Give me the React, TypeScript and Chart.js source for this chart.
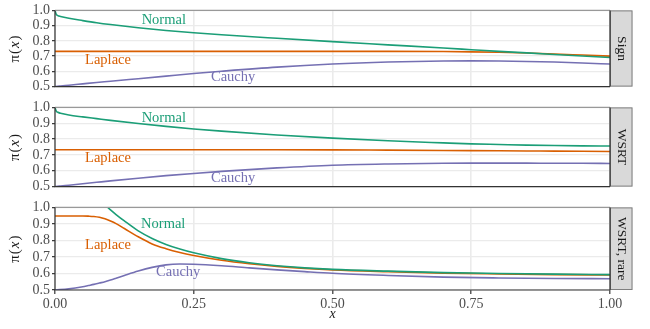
import React, { useEffect, useRef } from "react";
import { Chart, registerables } from "chart.js";

Chart.register(...registerables);

// ---------- data ----------
const panelNames = ["Sign", "WSRT", "WSRT, rare"];
const seriesNames = ["Normal", "Laplace", "Cauchy"];
const seriesColors = ["#1b9e77", "#d95f02", "#7570b3"];

const xTickValues = [0, 0.25, 0.5, 0.75, 1];
const xTickLabels = ["0.00", "0.25", "0.50", "0.75", "1.00"];
const yTickValues = [0.5, 0.6, 0.7, 0.8, 0.9, 1.0];
const yTickLabels = ["0.5", "0.6", "0.7", "0.8", "0.9", "1.0"];

const xGrid = [0, 0.002, 0.005, 0.01, 0.025, 0.05, 0.075, 0.1, 0.15, 0.2, 0.25, 0.3, 0.4, 0.5, 0.6, 0.7, 0.75, 0.8, 0.85, 0.9, 0.95, 1.0];

const signNormal = [1.0, 0.976, 0.966, 0.96, 0.948, 0.933, 0.919, 0.907, 0.886, 0.868, 0.853, 0.84, 0.817, 0.795, 0.774, 0.753, 0.742, 0.731, 0.721, 0.711, 0.701, 0.691];
const signLaplace = [0.731, 0.731, 0.731, 0.731, 0.731, 0.731, 0.731, 0.731, 0.731, 0.731, 0.731, 0.731, 0.731, 0.731, 0.731, 0.73, 0.728, 0.725, 0.72, 0.714, 0.707, 0.7];
const signCauchy = [0.5, 0.501, 0.502, 0.504, 0.509, 0.518, 0.527, 0.535, 0.552, 0.569, 0.586, 0.601, 0.628, 0.648, 0.661, 0.668, 0.669, 0.668, 0.665, 0.661, 0.655, 0.648];

const wsrtNormal = [1.0, 0.978, 0.969, 0.963, 0.952, 0.94, 0.929, 0.918, 0.898, 0.88, 0.864, 0.85, 0.826, 0.806, 0.789, 0.776, 0.77, 0.766, 0.762, 0.759, 0.757, 0.756];
const wsrtLaplace = [0.733, 0.733, 0.733, 0.733, 0.733, 0.733, 0.733, 0.733, 0.733, 0.733, 0.733, 0.733, 0.733, 0.732, 0.73, 0.728, 0.727, 0.726, 0.725, 0.724, 0.723, 0.722];
const wsrtCauchy = [0.5, 0.501, 0.502, 0.504, 0.509, 0.518, 0.527, 0.536, 0.553, 0.569, 0.583, 0.596, 0.618, 0.635, 0.643, 0.647, 0.648, 0.648, 0.648, 0.647, 0.647, 0.646];

const xRare = [0, 0.025, 0.05, 0.06, 0.07, 0.08, 0.09, 0.1, 0.11, 0.125, 0.15, 0.175, 0.2, 0.225, 0.25, 0.3, 0.35, 0.4, 0.45, 0.5, 0.6, 0.7, 0.8, 0.9, 1.0];
const rareNormal = [1.3, 1.25, 1.17, 1.13, 1.09, 1.05, 1.015, 0.985, 0.957, 0.918, 0.858, 0.812, 0.776, 0.748, 0.725, 0.69, 0.665, 0.647, 0.634, 0.625, 0.614, 0.605, 0.6, 0.596, 0.593];
const rareLaplace = [0.948, 0.948, 0.948, 0.947, 0.945, 0.94, 0.931, 0.918, 0.902, 0.872, 0.822, 0.779, 0.75, 0.727, 0.709, 0.68, 0.659, 0.643, 0.631, 0.622, 0.611, 0.602, 0.597, 0.593, 0.591];
const rareCauchy = [0.5, 0.507, 0.52, 0.527, 0.534, 0.542, 0.55, 0.56, 0.571, 0.588, 0.615, 0.637, 0.652, 0.657, 0.656, 0.647, 0.634, 0.622, 0.611, 0.601, 0.588, 0.578, 0.573, 0.57, 0.568];

// label anchor positions in data units [x, y] per panel, per series
const labelPosSign = [[0.196, 0.939], [0.0955, 0.673], [0.321, 0.561]];
const labelPosWsrt = [[0.196, 0.934], [0.0955, 0.678], [0.321, 0.553]];
const labelPosRare = [[0.195, 0.9], [0.0955, 0.774], [0.222, 0.61]];

const panelX = [xGrid, xGrid, xRare];
const panelSeries = [
  [signNormal, signLaplace, signCauchy],
  [wsrtNormal, wsrtLaplace, wsrtCauchy],
  [rareNormal, rareLaplace, rareCauchy],
];
const panelLabels = [labelPosSign, labelPosWsrt, labelPosRare];

// ---------- layout ----------
const W = 650;
const canvasTops = [0, 97, 197];
const canvasHeights = [97, 100, 132];
const padTops = [7, 10, 10];
const padBottoms = [10, 10, 0];
const xAxisHeights = [0, 0, 39];
const FONT = "'Liberation Serif', 'DejaVu Serif', serif";

const overlay = {
  id: "overlay",
  afterDatasetsDraw(chart: any, _args: any, opts: any) {
    const { ctx, chartArea: a, scales } = chart;
    const xs = scales.x;
    const ys = scales.y;
    ctx.save();
    // series labels
    ctx.font = `14.5px ${FONT}`;
    ctx.textAlign = "center";
    ctx.textBaseline = "middle";
    opts.labels.forEach((p: number[], i: number) => {
      ctx.fillStyle = seriesColors[i];
      ctx.fillText(seriesNames[i], xs.getPixelForValue(p[0]), ys.getPixelForValue(p[1]));
    });
    // strip
    const sx = a.right;
    const sw = 22.5;
    ctx.fillStyle = "#d9d9d9";
    ctx.fillRect(sx, a.top, sw, a.bottom - a.top);
    ctx.strokeStyle = "#7f7f7f";
    ctx.lineWidth = 1;
    ctx.strokeRect(sx + 0.5, a.top + 0.5, sw - 1, a.bottom - a.top - 1);
    ctx.save();
    ctx.translate(sx + sw / 2, (a.top + a.bottom) / 2);
    ctx.rotate(Math.PI / 2);
    ctx.fillStyle = "#1a1a1a";
    ctx.font = `13.5px ${FONT}`;
    ctx.textAlign = "center";
    ctx.textBaseline = "middle";
    ctx.fillText(opts.strip, 0, 0);
    ctx.restore();
    // panel borders
    ctx.lineWidth = 1.2;
    ctx.strokeStyle = "#999999";
    ctx.beginPath();
    ctx.moveTo(a.left, a.top);
    ctx.lineTo(a.right, a.top);
    ctx.stroke();
    ctx.strokeStyle = "#333333";
    ctx.beginPath();
    ctx.moveTo(a.left, a.top);
    ctx.lineTo(a.left, a.bottom);
    ctx.lineTo(a.right, a.bottom);
    ctx.moveTo(a.right, a.top);
    ctx.lineTo(a.right, a.bottom);
    ctx.stroke();
    // y title: π(x)
    ctx.save();
    ctx.translate(15, (a.top + a.bottom) / 2);
    ctx.rotate(-Math.PI / 2);
    ctx.fillStyle = "#1a1a1a";
    ctx.textBaseline = "middle";
    ctx.textAlign = "left";
    const parts = [
      ["π", `15px ${FONT}`],
      ["(", `15px ${FONT}`],
      ["x", `italic 15px ${FONT}`],
      [")", `15px ${FONT}`],
    ];
    let total = 0;
    parts.forEach(([t, f]) => {
      ctx.font = f;
      total += ctx.measureText(t).width + 1;
    });
    let cx = -total / 2;
    parts.forEach(([t, f]) => {
      ctx.font = f;
      ctx.fillText(t, cx, 0);
      cx += ctx.measureText(t).width + 1;
    });
    ctx.restore();
    // x title
    if (opts.showX) {
      ctx.fillStyle = "#1a1a1a";
      ctx.font = `italic 14px ${FONT}`;
      ctx.textAlign = "center";
      ctx.textBaseline = "middle";
      ctx.fillText("x", (a.left + a.right) / 2, a.bottom + 24);
    }
    ctx.restore();
  },
};

function makeConfig(i: number): any {
  const xsArr = panelX[i];
  const showX = i === 2;
  return {
    type: "line",
    data: {
      datasets: panelSeries[i].map((ys, k) => ({
        label: seriesNames[k],
        data: xsArr.map((x, j) => ({ x, y: ys[j] })),
        borderColor: seriesColors[k],
        borderWidth: 1.6,
        pointRadius: 0,
        fill: false,
        cubicInterpolationMode: "monotone",
      })),
    },
    options: {
      animation: false,
      responsive: false,
      devicePixelRatio: 1,
      events: [],
      layout: { padding: { left: 0, right: 40, top: padTops[i], bottom: padBottoms[i] } },
      plugins: {
        legend: { display: false },
        tooltip: { enabled: false },
        overlay: { labels: panelLabels[i], strip: panelNames[i], showX },
      },
      scales: {
        x: {
          type: "linear",
          min: 0,
          max: 1,
          afterBuildTicks: (s: any) => {
            s.ticks = xTickValues.map((v) => ({ value: v }));
          },
          afterFit: (s: any) => {
            s.height = xAxisHeights[i];
          },
          grid: {
            color: "#ebebeb",
            lineWidth: 1.6,
            drawTicks: showX,
            tickLength: 4,
            tickColor: "#333333",
            tickWidth: 1.2,
          },
          border: { display: false },
          ticks: {
            display: showX,
            padding: 2,
            color: "#4d4d4d",
            font: { family: FONT, size: 14 },
            maxRotation: 0,
            autoSkip: false,
            callback: (_v: any, idx: number) => xTickLabels[idx],
          },
        },
        y: {
          type: "linear",
          min: 0.5,
          max: 1.0,
          afterBuildTicks: (s: any) => {
            s.ticks = yTickValues.map((v) => ({ value: v }));
          },
          afterFit: (s: any) => {
            s.width = 55;
          },
          grid: {
            color: "#ebebeb",
            lineWidth: 1.3,
            drawTicks: true,
            tickLength: 3,
            tickColor: "#333333",
            tickWidth: 1.2,
          },
          border: { display: false },
          ticks: {
            padding: 2,
            color: "#4d4d4d",
            font: { family: FONT, size: 14 },
            autoSkip: false,
            callback: (_v: any, idx: number) => yTickLabels[idx],
          },
        },
      },
    },
    plugins: [overlay],
  };
}

export default function App() {
  const r0 = useRef<HTMLCanvasElement>(null);
  const r1 = useRef<HTMLCanvasElement>(null);
  const r2 = useRef<HTMLCanvasElement>(null);
  useEffect(() => {
    const refs = [r0, r1, r2];
    const charts = refs.map((r, i) => new Chart(r.current as HTMLCanvasElement, makeConfig(i)));
    return () => charts.forEach((c) => c.destroy());
  }, []);
  const refs = [r0, r1, r2];
  return (
    <div style={{ position: "absolute", left: 0, top: 0, width: W, height: 329, background: "#fff" }}>
      {refs.map((r, i) => (
        <canvas
          key={i}
          ref={r}
          width={W}
          height={canvasHeights[i]}
          style={{ position: "absolute", left: 0, top: canvasTops[i], width: W, height: canvasHeights[i] }}
        />
      ))}
    </div>
  );
}
